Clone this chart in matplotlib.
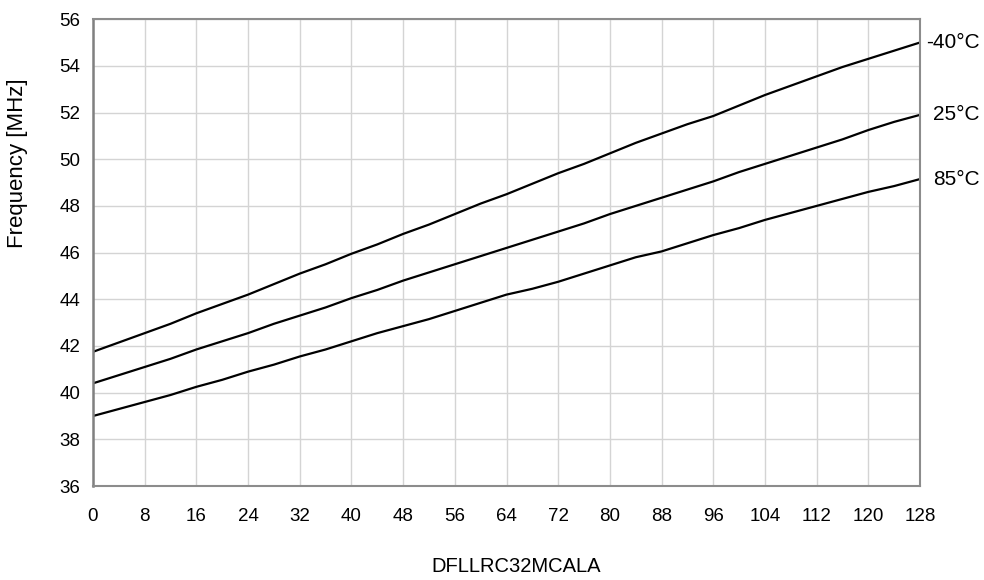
import matplotlib.pyplot as plt

codes = list(range(0, 129, 4))

f_m40 = [41.75, 42.15, 42.55, 42.95, 43.4, 43.8, 44.2, 44.65, 45.1, 45.5,
         45.95, 46.35, 46.8, 47.2, 47.65, 48.1, 48.5, 48.95, 49.4, 49.8,
         50.25, 50.7, 51.1, 51.5, 51.85, 52.3, 52.75, 53.15, 53.55, 53.95,
         54.3, 54.65, 55.0]
f_25 = [40.4, 40.75, 41.1, 41.45, 41.85, 42.2, 42.55, 42.95, 43.3, 43.65,
        44.05, 44.4, 44.8, 45.15, 45.5, 45.85, 46.2, 46.55, 46.9, 47.25,
        47.65, 48.0, 48.35, 48.7, 49.05, 49.45, 49.8, 50.15, 50.5, 50.85,
        51.25, 51.6, 51.9]
f_85 = [39.0, 39.3, 39.6, 39.9, 40.25, 40.55, 40.9, 41.2, 41.55, 41.85,
        42.2, 42.55, 42.85, 43.15, 43.5, 43.85, 44.2, 44.45, 44.75, 45.1,
        45.45, 45.8, 46.05, 46.4, 46.75, 47.05, 47.4, 47.7, 48.0, 48.3,
        48.6, 48.85, 49.15]

series = [("-40°C", f_m40), ("25°C", f_25), ("85°C", f_85)]

plt.rcParams['font.family'] = ['Liberation Sans', 'DejaVu Sans']

fig = plt.figure(figsize=(9.84, 5.8), dpi=100)
ax = fig.add_axes([0.0945, 0.162, 0.8405, 0.805])

for name, vals in series:
    ax.plot(codes, vals, color='black', lw=1.6)
    # labels right-aligned just past the plot edge
    ax.annotate(name, (codes[-1], vals[-1]), xytext=(43, 0),
                textcoords='offset points', va='center', ha='right',
                fontsize=15, annotation_clip=False)

ax.set_xlim(0, 128)
ax.set_ylim(36, 56)
ax.set_xticks(range(0, 129, 8))
ax.set_yticks(range(36, 57, 2))
ax.grid(True, color='#d4d4d4', lw=1)
ax.set_axisbelow(True)
for s in ax.spines.values():
    s.set_color('#8c8c8c')
    s.set_linewidth(1.5)
ax.spines['left'].set_linewidth(1.8)
ax.spines['left'].set_color('#808080')
ax.tick_params(axis='x', length=0, pad=16, labelsize=13.5)
ax.tick_params(axis='y', length=0, pad=9, labelsize=13.5)

fig.text(18 / 984, 1 - 163 / 580, 'Frequency [MHz]', rotation=90,
         ha='center', va='center', fontsize=16)
fig.text(516 / 984, 1 - 566 / 580, 'DFLLRC32MCALA',
         ha='center', va='center', fontsize=14.5)

fig.savefig('out.png')
